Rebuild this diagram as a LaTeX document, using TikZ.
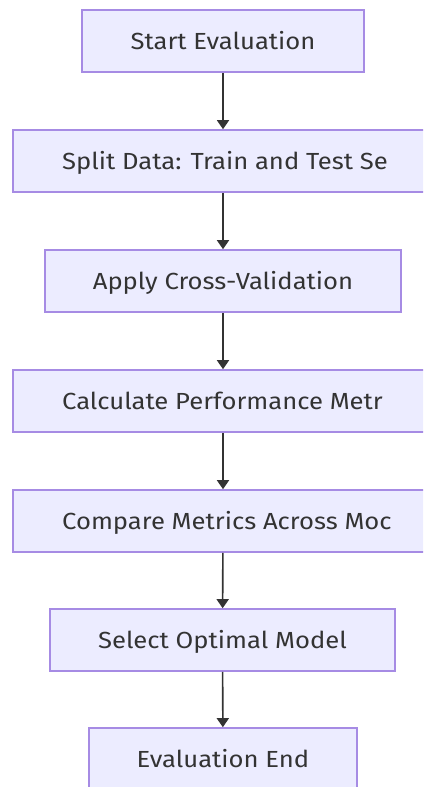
\documentclass[tikz,border=0pt]{standalone}
\usepackage{fontspec}
\setmainfont{Fira Sans}[FakeStretch=1.1]
\usetikzlibrary{arrows.meta}
\definecolor{boxfill}{HTML}{ECECFF}
\definecolor{boxline}{HTML}{A68BE4}
\definecolor{ink}{HTML}{333333}
\begin{document}
\begin{tikzpicture}[x=1pt,y=-1pt,
  stepbox/.style={draw=boxline, fill=boxfill, line width=1.6pt, inner sep=0pt, minimum height=62pt},
  lbl/.style={text=ink, inner sep=0pt, text height=16pt, text depth=0pt,
              font=\fontsize{23.3}{27}\selectfont},
  flow/.style={draw=ink, line width=1.6pt, -{Triangle[length=9pt,width=12pt]}}]
\useasboundingbox (0,0) rectangle (423,787);
\clip (0,0) rectangle (423,787);

% process boxes, top to bottom
\node[stepbox, minimum width=282pt] (start)   at (223,41)  {};
\node[stepbox, minimum width=420pt] (split)   at (223,161) {};
\node[stepbox, minimum width=356pt] (cv)      at (223,281) {};
\node[stepbox, minimum width=420pt] (metrics) at (223,401) {};
\node[stepbox, minimum width=420pt] (compare) at (223,521) {};
\node[stepbox, minimum width=345pt] (select)  at (222.5,640) {};
\node[stepbox, minimum width=268pt] (finish)  at (223,759) {};

% labels
\node[lbl] (startlbl) at (start) {Start Evaluation};
\node[lbl, anchor=west] (splitlbl) at (62,161) {Split Data: Train and Test Se};
\node[lbl] (cvlbl) at (cv) {Apply Cross-Validation};
\node[lbl, anchor=west] (metricslbl) at (62,401) {Calculate Performance Metr};
\node[lbl, anchor=west] (comparelbl) at (62,521) {Compare Metrics Across Moc};
\node[lbl] (selectlbl) at (select) {Select Optimal Model};
\node[lbl] (finishlbl) at (finish) {Evaluation End};

% connectors
\draw[flow] (start) -- (split);
\draw[flow] (split) -- (cv);
\draw[flow] (cv) -- (metrics);
\draw[flow] (metrics) -- (compare);
\draw[flow] (compare) -- (select);
\draw[flow] (select) -- (finish);
\end{tikzpicture}
\end{document}
